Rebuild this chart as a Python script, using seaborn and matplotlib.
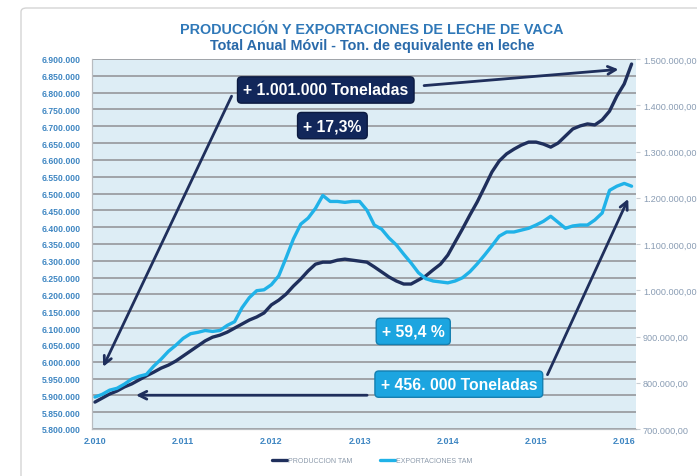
import numpy as np
import pandas as pd
import seaborn as sns
import matplotlib.pyplot as plt
from matplotlib.patches import FancyBboxPatch
from matplotlib.ticker import FuncFormatter, MultipleLocator

# data (miles de toneladas, TAM mensual ene-2010 .. feb-2016)
produccion = [5880, 5892, 5904, 5913, 5925, 5934, 5946, 5958, 5969, 5981, 5990, 6002,
              6017, 6032, 6047, 6062, 6073, 6079, 6088, 6100, 6112, 6124, 6133, 6145,
              6169, 6183, 6201, 6225, 6246, 6270, 6290, 6296, 6296, 6302, 6305, 6302,
              6299, 6296, 6282, 6267, 6252, 6240, 6231, 6231, 6243, 6255, 6273, 6290,
              6317, 6356, 6395, 6436, 6475, 6519, 6564, 6597, 6618, 6632, 6644, 6653,
              6653, 6647, 6638, 6650, 6671, 6692, 6701, 6707, 6704, 6719, 6745, 6790,
              6826, 6885]
exportaciones = [769, 775, 784, 788, 797, 808, 814, 818, 836, 851, 868, 881,
                 896, 906, 909, 913, 911, 913, 924, 932, 962, 984, 999, 1001,
                 1012, 1031, 1070, 1111, 1143, 1156, 1177, 1205, 1192, 1192, 1190, 1192,
                 1192, 1173, 1141, 1132, 1113, 1098, 1078, 1059, 1038, 1025, 1020, 1018,
                 1016, 1020, 1027, 1040, 1057, 1076, 1096, 1117, 1126, 1126, 1130, 1134,
                 1141, 1149, 1160, 1147, 1134, 1139, 1141, 1141, 1152, 1167, 1216, 1225,
                 1231, 1225]
year_labels = ["2.010", "2.011", "2.012", "2.013", "2.014", "2.015", "2.016"]

df = pd.DataFrame({"mes": np.arange(len(produccion)),
                   "produccion": produccion,
                   "exportaciones": exportaciones})

navy = "#1F2F5C"
cyan = "#20B2E8"
grid_c = "#A0A4A8"
title_c = "#2F78B8"

sns.set_style("white")
plt.rcParams["font.family"] = ["Liberation Sans", "DejaVu Sans"]

fig = plt.figure(figsize=(6.97, 4.77), dpi=100)

# card frame
card = FancyBboxPatch((21 / 697, -0.05), 1.0, 1.05 - 9 / 477,
                      boxstyle="round,pad=0,rounding_size=0.008",
                      transform=fig.transFigure, fc="white", ec="#D4D4D4", lw=1.0,
                      zorder=-5)
fig.patches.append(card)

ax = fig.add_axes([92 / 697, 1 - 430 / 477, (636 - 92) / 697, 370 / 477])
ax.set_facecolor("#DDEDF5")
ax2 = ax.twinx()

sns.lineplot(data=df, x="mes", y="produccion", ax=ax, color=navy, lw=2.4,
             label="PRODUCCION TAM", legend=False)
sns.lineplot(data=df, x="mes", y="exportaciones", ax=ax2, color=cyan, lw=2.4,
             label="EXPORTACIONES TAM", legend=False)

ax.set_xlim(-0.4, 73.6)
ax.set_ylim(5800, 6900)
ax2.set_ylim(700, 1500)

ax.yaxis.set_major_locator(MultipleLocator(50))
ax2.yaxis.set_major_locator(MultipleLocator(100))
ax.set_xticks(np.arange(0, 73, 12))
ax.set_xticklabels(year_labels)
ax.yaxis.set_major_formatter(FuncFormatter(lambda v, p: f"{int(round(v * 1000)):,}".replace(",", ".")))
ax2.yaxis.set_major_formatter(FuncFormatter(lambda v, p: f"{int(round(v * 1000)):,}".replace(",", ".") + ",00"))

ax.grid(axis="y", color=grid_c, lw=1.4)
ax.set_axisbelow(True)
ax.set_xlabel("")
ax.set_ylabel("")
ax2.set_ylabel("")

for t in ax.get_yticklabels() + ax.get_xticklabels():
    t.set_fontweight("bold")
    t.set_color("#3E86C2")
ax.tick_params(axis="y", labelsize=6.2, length=0, pad=8)
ax.tick_params(axis="x", labelsize=6.5, length=0, pad=5)
ax2.tick_params(axis="y", labelsize=6.6, length=3, color="#C8CDD2", labelcolor="#8A9DB4", pad=2)

for a in (ax, ax2):
    for s in ["top", "right"]:
        a.spines[s].set_visible(False)
    a.spines["left"].set_color("#B8BCC0")
    a.spines["bottom"].set_color("#B8BCC0")

# titles
fig.text(0.534, 1 - 30 / 477, "PRODUCCIÓN Y EXPORTACIONES DE LECHE DE VACA",
         ha="center", va="center", fontsize=10.4, fontweight="bold", color=title_c)
fig.text(0.534, 1 - 46 / 477, "Total Anual Móvil - Ton. de equivalente en leche",
         ha="center", va="center", fontsize=10.4, fontweight="bold", color="#2A6AAA")

# arrows (coordenadas del eje derecho)
arrow_kw = dict(arrowstyle="->", color=navy, lw=2.0, mutation_scale=14)
ax2.annotate("", xy=(0.95, 829), xytext=(18.75, 1425), arrowprops=arrow_kw, zorder=5)
ax2.annotate("", xy=(71.6, 1478), xytext=(44.4, 1442), arrowprops=arrow_kw, zorder=5)
ax2.annotate("", xy=(5.2, 773), xytext=(37.4, 773), arrowprops=arrow_kw, zorder=5)
ax2.annotate("", xy=(72.7, 1203), xytext=(61.4, 812), arrowprops=arrow_kw, zorder=5)

# boxes
def caja(x, y, txt, fc, ec):
    ax2.text(x, y, txt, ha="center", va="center", fontsize=11.3, fontweight="bold",
             color="white", zorder=6,
             bbox=dict(boxstyle="round,pad=0.36,rounding_size=0.25", fc=fc, ec=ec, lw=1.0))

caja(31.4, 1433, "+ 1.001.000 Toneladas", "#12275A", "#0B1A40")
caja(32.3, 1356, "+ 17,3%", "#12275A", "#0B1A40")
caja(43.3, 911, "+ 59,4 %", "#1CA5E0", "#147FB0")
caja(49.5, 797, "+ 456. 000 Toneladas", "#1CA5E0", "#147FB0")

# legend
h1, l1 = ax.get_legend_handles_labels()
h2, l2 = ax2.get_legend_handles_labels()
fig.legend(h1 + h2, l1 + l2, loc="center", bbox_to_anchor=(0.534, 1 - 462 / 477),
           ncol=2, frameon=False, fontsize=5, handlelength=2.2, handletextpad=0.1,
           columnspacing=4, labelcolor="#8C9AAB")

fig.savefig("out.png", dpi=100)
